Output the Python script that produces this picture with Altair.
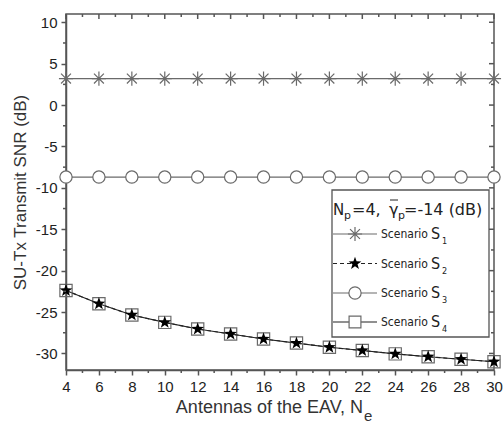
import altair as alt
import pandas as pd

# ---------------- data ----------------
antennas = [4, 6, 8, 10, 12, 14, 16, 18, 20, 22, 24, 26, 28, 30]
snr_s1 = [3.2, 3.2, 3.2, 3.2, 3.2, 3.2, 3.2, 3.2, 3.2, 3.2, 3.2, 3.2, 3.2, 3.2]
snr_s2 = [-22.4, -24.0, -25.35, -26.25, -27.05, -27.65, -28.25, -28.75, -29.25, -29.65, -30.05, -30.4, -30.7, -31.0]
snr_s3 = [-8.7, -8.7, -8.7, -8.7, -8.7, -8.7, -8.7, -8.7, -8.7, -8.7, -8.7, -8.7, -8.7, -8.7]
snr_s4 = [-22.4, -24.0, -25.35, -26.25, -27.05, -27.65, -28.25, -28.75, -29.25, -29.65, -30.05, -30.4, -30.7, -31.0]

x_major = [4, 6, 8, 10, 12, 14, 16, 18, 20, 22, 24, 26, 28, 30]
x_minor = [5, 7, 9, 11, 13, 15, 17, 19, 21, 23, 25, 27, 29]
y_major = [-30, -25, -20, -15, -10, -5, 0, 5, 10]
y_minor = [-27.5, -22.5, -17.5, -12.5, -7.5, -2.5, 2.5, 7.5]

legend_labels = ["1", "2", "3", "4"]

W, H = 428, 356
AX = "#555555"
GRAY = "#6a6a6a"
DARK = "#222222"

ASTERISK = "M-1,0L1,0M0,-1L0,1M-0.7,-0.7L0.7,0.7M-0.7,0.7L0.7,-0.7"
STAR = ("M0,-1L0.235,-0.324L0.951,-0.309L0.380,0.124L0.588,0.809L0,0.4"
        "L-0.588,0.809L-0.380,0.124L-0.951,-0.309L-0.235,-0.324Z")

xs = alt.Scale(domain=[4, 30], nice=False, zero=False)
ys = alt.Scale(domain=[-32, 11], nice=False, zero=False)

x_axis = alt.Axis(values=x_major, tickSize=5, tickWidth=1.5, tickColor=AX,
                  domainColor=AX, domainWidth=1.5, labelFont="Liberation Sans",
                  labelFontSize=15, labelColor="#222", labelPadding=4, grid=False,
                  title="", labelFlush=False, labelExpr="'' + datum.value")
y_axis = alt.Axis(values=y_major, tickSize=5, tickWidth=1.5, tickColor=AX,
                  domainColor=AX, domainWidth=1.5, labelFont="Liberation Sans",
                  labelFontSize=15, labelColor="#222", labelPadding=4, grid=False,
                  title="SU-Tx Transmit SNR (dB)", titleFont="Liberation Sans",
                  titleFontSize=17, titleFontWeight="normal", titleColor="#333",
                  titlePadding=6, labelFlush=False, labelExpr="'' + datum.value")


def frame(vals):
    return pd.DataFrame({"n": antennas, "snr": vals})


X = alt.X("n:Q", scale=xs, axis=x_axis)
Y = alt.Y("snr:Q", scale=ys, axis=y_axis)

layers = []
# S1
layers.append(alt.Chart(frame(snr_s1)).mark_line(color=GRAY, strokeWidth=1.2).encode(x=X, y=Y))
layers.append(alt.Chart(frame(snr_s1)).mark_point(shape=ASTERISK, size=200, color=GRAY,
                                                  filled=False, strokeWidth=1.2, opacity=1)
              .encode(x=X, y=Y))
# S3
layers.append(alt.Chart(frame(snr_s3)).mark_line(color=GRAY, strokeWidth=1.2).encode(x=X, y=Y))
layers.append(alt.Chart(frame(snr_s3)).mark_point(shape="circle", size=150, fill="white",
                                                  filled=True, stroke=GRAY,
                                                  strokeWidth=1.2, opacity=1)
              .encode(x=X, y=Y))
# S4
layers.append(alt.Chart(frame(snr_s4)).mark_line(color=DARK, strokeWidth=1.1).encode(x=X, y=Y))
layers.append(alt.Chart(frame(snr_s4)).mark_point(shape="square", size=150, color=GRAY,
                                                  filled=False, strokeWidth=1.2, opacity=1)
              .encode(x=X, y=Y))
# S2
layers.append(alt.Chart(frame(snr_s2)).mark_line(color=DARK, strokeWidth=1.1, strokeDash=[4, 3])
              .encode(x=X, y=Y))
layers.append(alt.Chart(frame(snr_s2)).mark_point(shape=STAR, size=180, color="#000",
                                                  filled=True, opacity=1)
              .encode(x=X, y=Y))

# minor / mirrored ticks
xmin_df = pd.DataFrame({"n": x_minor})
xmaj_df = pd.DataFrame({"n": x_major})
ymin_df = pd.DataFrame({"snr": y_minor})
ymaj_df = pd.DataFrame({"snr": y_major})
rule_kw = dict(color=AX, strokeWidth=1.5)
# bottom minor outward
layers.append(alt.Chart(xmin_df).mark_rule(**rule_kw).encode(
    x=X, y=alt.value(H), y2=alt.value(H + 3)))
# top inward
layers.append(alt.Chart(xmaj_df).mark_rule(**rule_kw).encode(
    x=X, y=alt.value(0), y2=alt.value(5)))
layers.append(alt.Chart(xmin_df).mark_rule(**rule_kw).encode(
    x=X, y=alt.value(0), y2=alt.value(3)))
# left minor outward
layers.append(alt.Chart(ymin_df).mark_rule(**rule_kw).encode(
    y=Y, x=alt.value(0), x2=alt.value(-3)))
# right inward
layers.append(alt.Chart(ymaj_df).mark_rule(**rule_kw).encode(
    y=Y, x=alt.value(W), x2=alt.value(W - 5)))
layers.append(alt.Chart(ymin_df).mark_rule(**rule_kw).encode(
    y=Y, x=alt.value(W), x2=alt.value(W - 3)))

one = pd.DataFrame({"a": [0]})


def txt(t, x, y, size, font="Liberation Sans", align="left", baseline="alphabetic", color="#222"):
    return alt.Chart(one).mark_text(text=t, font=font, fontSize=size, align=align,
                                    baseline=baseline, color=color).encode(
        x=alt.value(x), y=alt.value(y))


# x-axis title
layers.append(txt("Antennas of the EAV, N", 297, 399, 18, align="right", color="#333"))
layers.append(txt("e", 298, 407, 15, color="#333"))

# legend box
layers.append(alt.Chart(one).mark_rect(fill="white", stroke=AX, strokeWidth=1.3).encode(
    x=alt.value(266), x2=alt.value(423), y=alt.value(176), y2=alt.value(323)))

LF = "DejaVu Sans Condensed, DejaVu Sans"
TF = "DejaVu Sans"
layers.append(txt("N", 267, 201, 15, font=TF))
layers.append(txt("p", 278, 205, 11, font=TF))
layers.append(txt("=4,", 286, 201, 16, font=TF))
layers.append(txt("γ", 323, 201, 16, font=TF))
layers.append(alt.Chart(one).mark_rule(color="#222", strokeWidth=1).encode(
    x=alt.value(324), x2=alt.value(332), y=alt.value(186)))
layers.append(txt("p", 332, 205, 11, font=TF))
layers.append(txt("=-14 (dB)", 338, 201, 16, font=TF))

rows_y = [220, 249.5, 279, 308]
sym = [
    (ASTERISK, GRAY, None, "open", 200),
    (STAR, "#000", [4, 3], "solid", 180),
    ("circle", GRAY, None, "white", 150),
    ("square", GRAY, None, "white", 140),
]
line_col = [GRAY, DARK, GRAY, DARK]
for lab, ry, (shape, col, dash, style, sz), lc in zip(legend_labels, rows_y, sym, line_col):
    rk = dict(color=lc, strokeWidth=1.1)
    if dash:
        rk["strokeDash"] = dash
    layers.append(alt.Chart(one).mark_rule(**rk).encode(
        x=alt.value(267), x2=alt.value(311), y=alt.value(ry)))
    pk = dict(shape=shape, size=sz, opacity=1)
    if style == "solid":
        pk.update(filled=True, color=col)
    elif style == "white":
        pk.update(filled=True, fill="white", stroke=col, strokeWidth=1.2)
    else:
        pk.update(filled=False, color=col, strokeWidth=1.2)
    layers.append(alt.Chart(one).mark_point(**pk).encode(x=alt.value(289), y=alt.value(ry)))
    layers.append(txt("Scenario", 315, ry, 12, font=LF, baseline="middle"))
    layers.append(txt("S", 365, ry, 16, font=LF, baseline="middle"))
    layers.append(txt(lab, 376, ry + 7, 9, font=LF, baseline="middle"))

chart = alt.layer(*layers).properties(
    width=W, height=H,
    padding={"left": 66, "top": 14, "right": 9, "bottom": 53},
    autosize=alt.AutoSizeParams(type="none"),
    background="white",
).configure_view(stroke=AX, strokeWidth=1.5)

chart.save("out.html", embed_options={"renderer": "svg", "actions": False})
